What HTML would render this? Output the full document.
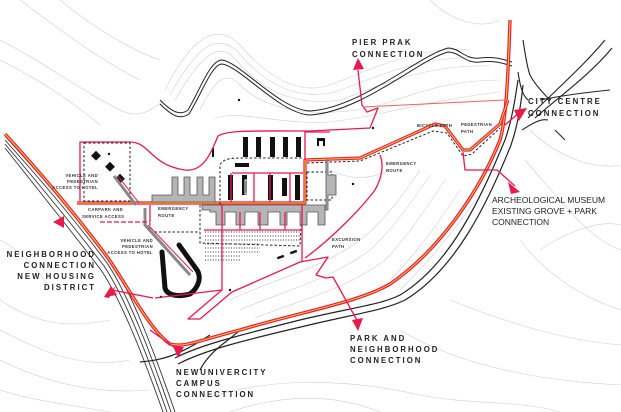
<!DOCTYPE html>
<html><head><meta charset="utf-8"><style>
html,body{margin:0;padding:0;background:#fff;}
svg{display:block;}
.lbl{font-family:"Liberation Sans",sans-serif;font-weight:bold;fill:#222;}
.big{font-size:7.8px;letter-spacing:2px;}
.sm{font-size:4.2px;letter-spacing:0.4px;fill:#333;}
.mid{font-size:8.5px;fill:#222;font-family:"Liberation Sans",sans-serif;}
</style></head><body>
<svg width="621" height="412" viewBox="0 0 621 412" xmlns="http://www.w3.org/2000/svg">
<rect width="621" height="412" fill="#fff"/>
<g fill="none" stroke="#cfcfcf" stroke-width="0.6">
<path d="M165,90 C190,40 215,20 240,45 C270,80 300,95 330,85 C370,70 420,45 470,50"/>
<path d="M170,95 C195,50 215,30 238,52 C268,88 300,100 335,92 C375,78 420,55 480,58"/>
<path d="M175,100 C198,60 218,38 236,60 C266,95 300,106 340,100 C380,86 425,64 490,66"/>
<path d="M200,110 C215,80 225,70 240,85 C270,115 330,118 380,105 C420,92 450,80 500,80"/>
<path d="M215,118 C240,110 280,125 330,122 C380,116 430,100 500,92"/>
<path d="M0,40 C40,60 80,90 120,110 C140,120 150,110 165,100"/>
<path d="M0,60 C40,80 70,100 100,125"/>
<path d="M20,0 C60,30 100,60 140,80"/>
<path d="M60,0 C90,25 130,50 160,60"/>
<path d="M430,0 C450,20 480,30 500,20"/>
<path d="M530,130 C560,160 600,170 621,165"/>
<path d="M525,160 C560,200 590,240 621,250"/>
<path d="M520,240 C550,280 590,300 621,310"/>
<path d="M450,300 C500,320 560,340 621,345"/>
<path d="M400,330 C450,360 520,380 621,385"/>
<path d="M200,400 C260,380 330,375 420,395 C470,405 520,400 560,412"/>
<path d="M230,412 C280,395 330,392 380,412"/>
<path d="M0,300 C30,320 60,330 110,320"/>
<path d="M0,330 C40,350 80,370 130,360"/>
<path d="M0,360 C40,380 90,395 150,390"/>
<path d="M0,390 C30,400 70,405 110,412"/>
<path d="M0,240 C20,250 40,270 50,290"/>
<path d="M230,300 C270,280 320,270 360,240 C380,225 400,200 420,170"/>
<path d="M240,310 C280,292 330,280 370,250 C390,232 410,205 430,175"/>
<path d="M255,318 C300,300 345,290 385,260 C405,240 425,210 445,180"/>
<path d="M390,280 C420,250 440,220 460,190"/>
<path d="M400,290 C430,260 455,230 475,200"/>
<path d="M330,170 C350,180 370,180 390,170"/>
<path d="M540,250 C570,230 600,220 621,225"/>
</g>
<g fill="none" stroke="#222" stroke-width="1">
<path d="M160,100 C172,112 180,116 188,110 C200,90 210,60 222,60 C240,62 280,110 310,111 C360,108 420,55 448,48 C460,48 465,60 480,58 C495,56 505,60 512,62"/>
<path d="M160,104 C172,116 180,120 189,114 C202,93 212,64 222,64 C240,66 280,114 310,115 C362,112 420,59 448,52 C460,52 465,64 480,62 C495,60 505,64 512,66"/>
</g>
<g fill="none" stroke="#222" stroke-width="1.1">
<path d="M523,40 C526,60 528,70 530,75 C535,85 545,95 550,100"/>
<path d="M518,72 C520,85 522,95 528,100"/>
<path d="M528,118 C550,95 580,70 605,40"/>
<path d="M535,118 C555,100 590,75 612,48"/>
<path d="M540,100 C565,95 590,92 610,90"/>
<path d="M555,130 C560,135 565,140 565,140"/>
<path d="M522,130 C530,125 540,118 548,120"/>
</g>
<g fill="none" stroke="#333" stroke-width="0.9">
<path d="M5,136 C40,175 80,220 110,260 C130,290 150,340 175,412"/>
<path d="M5,140 C40,179 78,224 107,263 C127,293 147,343 171,412"/>
<path d="M5,144 C38,183 75,228 104,266 C124,296 144,346 167,412"/>
<path d="M5,148 C36,187 72,232 101,270 C121,300 141,350 163,412"/>
</g>
<g fill="none" stroke="#222" stroke-width="1.2">
<path d="M175,358 C200,345 240,335 300,320 C350,308 380,305 400,295 C450,265 480,200 505,140 C512,120 515,100 518,80"/>
<path d="M178,364 C205,350 245,340 305,326 C355,314 385,310 405,300 C455,270 487,205 511,145 C518,125 521,105 523,85"/>
<path d="M140,362 C160,360 175,358 210,335"/>
<path d="M200,370 C210,350 230,340 240,330"/>
</g>
<g fill="none" stroke-linejoin="round">
<path d="M5,134 C40,172 80,220 108,258 C130,290 150,330 170,344 C185,348 200,340 240,330 C300,312 360,302 390,284 C440,250 480,190 500,140 C506,120 508,80 510,20" stroke="#e8194b" stroke-width="3.4"/>
<path d="M5,134 C40,172 80,220 108,258 C130,290 150,330 170,344 C185,348 200,340 240,330 C300,312 360,302 390,284 C440,250 480,190 500,140 C506,120 508,80 510,20" stroke="#f2d21a" stroke-width="1"/>
<path d="M77,203 L305,203 L305,160 L360,158 L435,124 L445,126 L463,150 L470,150 L500,124 L508,100" stroke="#e8194b" stroke-width="3.2"/>
<path d="M77,203 L305,203 L305,160 L360,158 L435,124 L445,126 L463,150 L470,150 L500,124 L508,100" stroke="#f2d21a" stroke-width="1"/>
<path d="M307,163 L360,161 L433,131 L447,133 L463,156 L472,154 L500,128" stroke="#222" stroke-width="1" stroke-dasharray="2.5 2"/>
</g>
<g fill="none" stroke="#222" stroke-width="1" stroke-dasharray="2.5 2">
<rect x="84" y="143" width="46" height="58"/>
<path d="M220,205 L220,165 C222,160 228,158 240,158 L303,158"/>
<path d="M150,205 L150,232 L200,232"/>
<path d="M200,205 L200,243 L300,246 L302,206"/>
<rect x="307" y="172" width="25" height="28"/>
</g>
<g fill="#b5b5b5" stroke="#555" stroke-width="0.8">
<path d="M152,195 L152,202 L215,202 L215,177 L209,177 L209,195 L203,195 L203,177 L197,177 L197,195 L190,195 L190,177 L184,177 L184,195 L178,195 L178,177 L172,177 L172,195 Z"/>
<path d="M202,205 L325,205 L325,225 L318,225 L318,212 L307,212 L307,225 L300,225 L300,212 L287,212 L287,225 L280,225 L280,212 L268,212 L268,225 L258,225 L258,212 L245,212 L245,225 L236,225 L236,212 L225,212 L225,225 L216,225 L216,212 L210,212 L210,210 L202,210 Z"/>
<path d="M326,160 L328,160 L328,175 L336,175 L336,195 L328,195 L328,210 L326,210 Z"/>
</g>
<g fill="#111">
<rect x="243" y="137" width="5" height="20"/><rect x="256" y="137" width="5" height="20"/>
<rect x="270" y="137" width="5" height="20"/><rect x="283" y="137" width="5" height="20"/>
<rect x="296" y="137" width="5" height="20"/>
<path d="M317,138 h8 v8 h-2 v-5 h-4 v5 h-2 z"/>
<rect x="228" y="175" width="5" height="25"/><rect x="242" y="175" width="5" height="20"/>
<rect x="268" y="175" width="5" height="25"/><rect x="282" y="178" width="5" height="18"/>
<rect x="295" y="175" width="5" height="25"/>
<rect x="235" y="163" width="14" height="4"/>
<rect x="212" y="148" width="2" height="9"/>
<rect x="93" y="152" width="7" height="7" transform="rotate(45 96 155)"/>
<rect x="107" y="163" width="7" height="7" transform="rotate(45 110 166)"/>
<rect x="117" y="175" width="7" height="7" transform="rotate(45 120 178)"/>
<circle cx="109" cy="154" r="1.2"/>
<rect x="277" y="256" width="7" height="2.5" transform="rotate(-20 280 257)"/>
<rect x="290" y="251" width="7" height="2.5" transform="rotate(-20 293 252)"/>
<circle cx="239" cy="100" r="1.2"/><circle cx="373" cy="128" r="1.2"/>
<circle cx="353" cy="184" r="1.2"/><circle cx="230" cy="290" r="1.2"/><circle cx="161" cy="297" r="1.2"/>
</g>
<g fill="none" stroke="#fff" stroke-width="1"><rect x="245" y="180" width="2" height="14"/><rect x="257" y="180" width="2" height="14"/></g>
<g fill="none" stroke="#333" stroke-width="1" stroke-dasharray="1 1.6">
<path d="M205,232 H300 M205,236 H300 M205,240 H300 M205,244 H260 M205,248 H260 M205,252 H260 M205,256 H240 M205,260 H240"/>
</g>
<path d="M114,176 L136,205" stroke="#888" stroke-width="3"/>
<path d="M118,176 L139,203" stroke="#e8194b" stroke-width="1"/>
<path d="M145,208 L145,225 L190,275" stroke="#888" stroke-width="3" fill="none"/>
<path d="M148,225 L193,272" stroke="#e8194b" stroke-width="1" fill="none"/>
<path d="M162,252 L165,288 C167,296 180,297 190,294 C198,288 202,278 197,270 L179,245" stroke="#111" stroke-width="5" fill="none" stroke-linecap="round"/>
<g fill="none" stroke="#e8194b" stroke-width="1.3" stroke-linejoin="round">
<path d="M80,201 L80,142 L130,142 C150,142 150,165 185,170 C205,172 212,150 218,136 C228,130 250,131 310,131 L370,128 L378,108 L367,112 L362,105 L358,70"/>
<path d="M305,160 L305,132 L330,132"/>
<path d="M232,173 L303,173 M231,173 L231,202 M254,173 L254,202 M270,173 L270,202 M290,173 L290,202"/>
<path d="M222,205 L222,290 L188,319 L200,319 L232,292 L300,262 L328,257 L316,275 L326,278 L333,277 L358,322"/>
<path d="M222,290 L155,298"/>
<path d="M302,205 L302,262 M305,258 C330,240 360,210 375,190 C385,172 382,160 380,155"/>
<path d="M204,230 L302,230 M240,212 L240,230 M260,212 L260,230 M285,212 L285,230"/>
<path d="M100,222 L150,222" stroke-dasharray="5 2"/>
<path d="M463,152 L465,170 L497,170 L515,186"/>
<path d="M505,125 L520,112"/>
<path d="M150,205 L150,222"/>
<path d="M153,298 L112,290"/>
</g>
<path d="M363,107 L505,100" stroke="#f06060" stroke-width="0.9" fill="none"/>
<path d="M150,330 L178,350" stroke="#e8194b" stroke-width="1.3" fill="none"/>
<g fill="#e8194b">
<polygon points="358,58 353,70 364,69"/>
<polygon points="527,108 514,110 519,121"/>
<polygon points="520,192 508,182 511,194"/>
<polygon points="53,222 64,216 64,228"/>
<polygon points="104,297 116,286 109,298"/>
<polygon points="104,297 111,286 117,295"/>
<polygon points="358,331 352,320 363,318"/>
<polygon points="178,358 173,346 184,347"/>
</g>
<g class="lbl big">
<text x="352" y="45">PIER PRAK</text>
<text x="352" y="57">CONNECTION</text>
<text x="528" y="104">CITY CENTRE</text>
<text x="528" y="116">CONNECTION</text>
<text x="96" y="257" text-anchor="end">NEIGHBORHOOD</text>
<text x="96" y="268" text-anchor="end">CONNECTION</text>
<text x="96" y="279" text-anchor="end">NEW HOUSING</text>
<text x="96" y="290" text-anchor="end">DISTRICT</text>
<text x="350" y="341">PARK AND</text>
<text x="350" y="352">NEIGHBORHOOD</text>
<text x="350" y="363">CONNECTION</text>
<text x="176" y="375">NEWUNIVERCITY</text>
<text x="176" y="386">CAMPUS</text>
<text x="176" y="397">CONNECTTION</text>
</g>
<g class="mid">
<text x="492" y="203">ARCHEOLOGICAL MUSEUM</text>
<text x="492" y="214">EXISTING GROVE + PARK</text>
<text x="492" y="225">CONNECTION</text>
</g>
<g class="lbl sm">
<text x="98" y="177" text-anchor="end">VEHICLE AND</text>
<text x="98" y="183" text-anchor="end">PEDESTRIAN</text>
<text x="98" y="189" text-anchor="end">ACCESS TO HOTEL</text>
<text x="88" y="211">CARPARK AND</text>
<text x="82" y="218">SERVICE ACCESS</text>
<text x="158" y="210">EMERGENCY</text>
<text x="158" y="217">ROUTE</text>
<text x="153" y="242" text-anchor="end">VEHICLE AND</text>
<text x="153" y="248" text-anchor="end">PEDESTRIAN</text>
<text x="153" y="254" text-anchor="end">ACCESS TO HOTEL</text>
<text x="386" y="165">EMERGENCY</text>
<text x="386" y="172">ROUTE</text>
<text x="417" y="127">BICYCLE PATH</text>
<text x="461" y="126">PEDESTRIAN</text>
<text x="461" y="133">PATH</text>
<text x="332" y="241">EXCURSION</text>
<text x="332" y="248">PATH</text>
</g>
</svg>
</body></html>
